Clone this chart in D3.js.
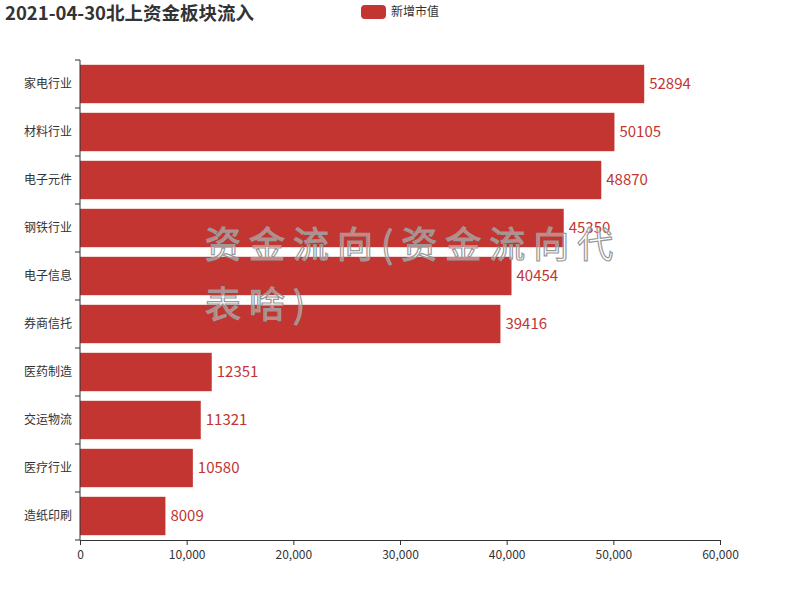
<!DOCTYPE html>
<html><head><meta charset="utf-8">
<script src="https://cdn.jsdelivr.net/npm/d3@7"></script>
<style>body{margin:0;background:#fff}svg{display:block}</style>
</head><body>
<svg id="c" width="800" height="600"></svg>
<script>
const categories = ["家电行业","材料行业","电子元件","钢铁行业","电子信息","券商信托","医药制造","交运物流","医疗行业","造纸印刷"];
const values = [52894,50105,48870,45350,40454,39416,12351,11321,10580,8009];
const xTicks = [0,10000,20000,30000,40000,50000,60000];
const title = "2021-04-30北上资金板块流入";
const legendLabel = "新增市值";
const watermarkLines = ["资金流向(资金流向代", "表啥)"];

const font = "'Noto Sans CJK SC','Microsoft YaHei',sans-serif";
const color = "#c23531";
const svg = d3.select("#c").style("font-family", font);
const m = {left:80, right:80, top:60, bottom:60};
const W = 800, H = 600;

const x = d3.scaleLinear().domain([0,60000]).range([m.left, W-m.right]);
const y = d3.scaleBand().domain(categories).range([m.top, H-m.bottom]).paddingInner(0.2).paddingOuter(0.1);

// bars
svg.append("g").selectAll("rect").data(categories).join("rect")
  .attr("x", x(0)).attr("y", d=>y(d))
  .attr("width", (d,i)=>x(values[i])-x(0)).attr("height", y.bandwidth())
  .attr("fill", color);

// value labels
svg.append("g").selectAll("text").data(categories).join("text")
  .attr("x", (d,i)=>x(values[i])+5).attr("y", d=>y(d)+y.bandwidth()/2)
  .attr("dy","0.35em").attr("font-size",15).attr("fill",color)
  .text((d,i)=>values[i]);

// x axis
const xa = svg.append("g").attr("transform",`translate(0,${H-m.bottom})`)
  .call(d3.axisBottom(x).tickValues(xTicks).tickFormat(d3.format(",")).tickSize(5).tickSizeOuter(0));
xa.selectAll("text").attr("font-size",12).attr("fill","#333").attr("font-family",font).attr("dy","0.9em");
xa.selectAll("line,path").attr("stroke","#333");

// y axis with boundary ticks
const ya = svg.append("g").attr("transform",`translate(${m.left},0)`);
ya.append("line").attr("x1",0).attr("x2",0).attr("y1",m.top).attr("y2",H-m.bottom).attr("stroke","#333");
const bounds = d3.range(categories.length+1).map(i=>m.top + i*((H-m.top-m.bottom)/categories.length));
ya.selectAll("line.t").data(bounds).join("line").attr("class","t")
  .attr("x1",-5).attr("x2",0).attr("y1",d=>d).attr("y2",d=>d).attr("stroke","#333");
ya.selectAll("text").data(categories).join("text")
  .attr("x",-8).attr("y",d=>y(d)+y.bandwidth()/2).attr("dy","0.35em")
  .attr("text-anchor","end").attr("font-size",12).attr("fill","#333").text(d=>d);

// title
svg.append("text").attr("x",5).attr("y",20).attr("font-size",18.5).attr("font-weight","bold")
  .attr("fill","#333").text(title);

// legend
svg.append("rect").attr("x",361).attr("y",5).attr("width",25).attr("height",14).attr("rx",4).attr("fill",color);
svg.append("text").attr("x",391).attr("y",12).attr("dy","0.35em").attr("font-size",12).attr("fill","#333").text(legendLabel);

// watermark
const wm = svg.append("g").attr("font-size",36)
  .attr("fill","rgba(255,255,255,0.4)").attr("stroke","#999").attr("stroke-width",1.2)
  .style("letter-spacing","8px");
wm.selectAll("text").data(watermarkLines).join("text")
  .attr("x",205).attr("y",(d,i)=>258+i*60).text(d=>d);
</script>
</body></html>
